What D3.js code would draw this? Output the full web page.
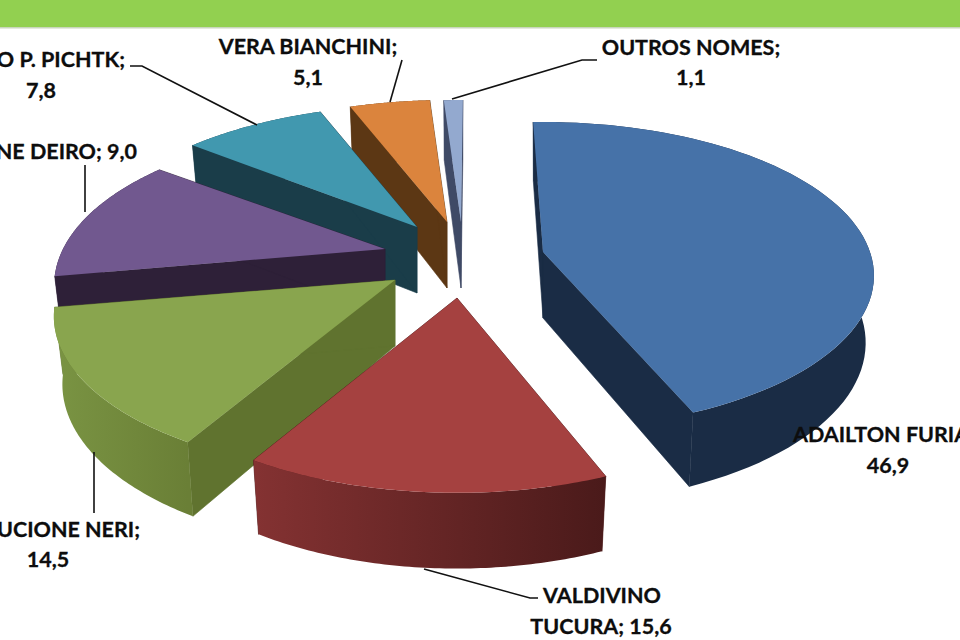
<!DOCTYPE html>
<html><head><meta charset="utf-8">
<script src="https://cdn.jsdelivr.net/npm/d3@7"></script>
<style>html,body{margin:0;padding:0;background:#fff;overflow:hidden}svg{display:block}</style>
</head><body><svg id="c" width="960" height="640"></svg>
<script>
// ---- data ----
const names = ["ADAILTON FURIA","VALDIVINO TUCURA","UCIONE NERI","NE DEIRO","O P. PICHTK","VERA BIANCHINI","OUTROS NOMES"];
const values = [46.9,15.6,14.5,9.0,7.8,5.1,1.1];
const topColors = ["#4672a8","#a54140","#89a54e","#71588f","#4198af","#db843d","#93a9cf"];
const wallColors = ["#1a2c45","#4a1a1a","#60732f","#2e2038","#1a3d49","#5c3714","#3f4a66"];
const rimStops = [["#1a2c45","#1a2c45"],["#843232","#4a1a1a"],["#7a9443","#6a7f36"],["#2e2038","#2e2038"],["#1a3d49","#1a3d49"],["#5c3714","#5c3714"],["#3f4a66","#3f4a66"]];
// ---- camera / layout ----
const pivots = [[543,252],[457,298],[395,280],[385,249],[417,227],[447,222],[461,222]];
const radiusX = [327,326,332,322,328,328,328];
const radiusY = [150,150,150,150,150,150,150];
const perspective = [.154,.23,.23,.23,.23,.23,.23];
const edgeNudge = [[-2.4,-2.2],[0,0],[0,0],[0,-1.5],[0,0],[0,0],[0,0]];
const warpDomain = [0,168.84,225,277.2,309.6,337.68,356.04,360];
const warpRange = [0.4,159,210,260,308.5,339,356.3,360.4];
const depth = 66, bottomX = .975, bottomY = 1.05;
const drawOrder = [6,5,4,3,2,1,0];
const labelLines = [
 {anchor:"start",lines:[[793,442,"ADAILTON FURIA"],[888,473,"46,9","middle"]]},
 {lines:[[602,603,"VALDIVINO"],[601,634,"TUCURA; 15,6"]]},
 {lines:[[140,537,"UCIONE NERI;","end"],[48,567,"14,5"]]},
 {lines:[[137,159,"NE DEIRO; 9,0","end"]]},
 {lines:[[125,67,"O P. PICHTK;","end"],[41,98,"7,8"]]},
 {lines:[[308,54,"VERA BIANCHINI;"],[308,85,"5,1"]]},
 {lines:[[691,55,"OUTROS NOMES;"],[691,85,"1,1"]]}
];
const leaders = [
 [],
 [[424,569],[530,598],[538,598]],
 [[94,452],[94,513]],
 [[85,165],[85,212]],
 [[130,66],[142,66],[257,125]],
 [[402,60],[390,102]],
 [[597,60],[582,60],[452,99]]
];

const svg = d3.select("#c");
const defs = svg.append("defs");
svg.append("rect").attr("width",960).attr("height",27).attr("fill","#92d050");
svg.append("rect").attr("y",27).attr("width",960).attr("height",1.5).attr("fill","#c9d6bc");

const arcs = d3.pie().sort(null).value(d=>d)(values);
const warp = d3.scaleLinear().domain(warpDomain.map(d=>d*Math.PI/180)).range(warpRange);
const line = d3.line();
function proj(i,deg,bottom){
  const t=deg*Math.PI/180, ux=Math.sin(t), uy=-Math.cos(t), den=1-perspective[i]*uy;
  let x=radiusX[i]*ux/den, y=radiusY[i]*uy/den;
  if(bottom){x*=bottomX; y=depth+bottomY*y;}
  return [pivots[i][0]+x,pivots[i][1]+y];
}
const apex=(i,bottom)=>[pivots[i][0],pivots[i][1]+(bottom?depth:0)];

const g = svg.append("g");
drawOrder.forEach(i=>{
  const a=arcs[i], a0=warp(a.startAngle)+edgeNudge[i][0], a1=warp(a.endAngle)+edgeNudge[i][1];
  const steps=d3.range(0,73).map(k=>a0+(a1-a0)*k/72);
  const top=steps.map(d=>proj(i,d,false)), bot=steps.map(d=>proj(i,d,true));
  const s=g.append("g");
  const xs=top.map(p=>p[0]);
  const gid="rim"+i;
  const lg=defs.append("linearGradient").attr("id",gid).attr("gradientUnits","userSpaceOnUse")
    .attr("x1",d3.min(xs)).attr("x2",d3.max(xs)).attr("y1",0).attr("y2",0);
  lg.append("stop").attr("offset",0).attr("stop-color",rimStops[i][0]);
  lg.append("stop").attr("offset",1).attr("stop-color",rimStops[i][1]);
  // cut walls
  [[top[0],apex(i),apex(i,true),bot[0]],[top[72],apex(i),apex(i,true),bot[72]]].forEach(q=>
    s.append("path").attr("d",line(q)+"Z").attr("fill",wallColors[i]).attr("stroke",wallColors[i]).attr("stroke-width",.6));
  // rim
  s.append("path").attr("d",line(top.concat(bot.slice().reverse()))+"Z").attr("fill",`url(#${gid})`);
  // top face
  s.append("path").attr("d",line([apex(i)].concat(top))+"Z").attr("fill",topColors[i]);
});

leaders.forEach(p=>{ if(p.length) svg.append("path").attr("d",line(p)).attr("fill","none").attr("stroke","#111").attr("stroke-width",1.6);});

labelLines.forEach(l=>l.lines.forEach(t=>{
  svg.append("text").attr("x",t[0]).attr("y",t[1]).attr("text-anchor",t[3]|| (l.anchor||"middle"))
    .attr("font-family","Lato, 'Open Sans', sans-serif").attr("font-weight",700).attr("font-size",21.5)
    .attr("fill","#0d0d0d").attr("stroke","#0d0d0d").attr("stroke-width",.3).text(t[2]);
}));
</script></body></html>
